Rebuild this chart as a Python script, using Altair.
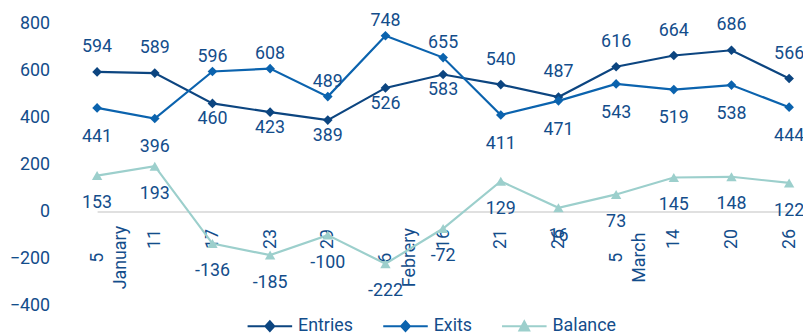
import json
import altair as alt
import pandas as pd

# ---- data ----
x_labels = ["5|January", "11", "17", "23", "29", "6|Febrery", "16", "21", "26",
            "5|March", "14", "20", "26"]
entries = [594, 589, 460, 423, 389, 526, 583, 540, 487, 616, 664, 686, 566]
exits = [441, 396, 596, 608, 489, 748, 655, 411, 471, 543, 519, 538, 444]
balance = [153, 193, -136, -185, -100, -222, -72, 129, 16, 73, 145, 148, 122]
series_names = ["Entries", "Exits", "Balance"]
y_ticks = [-400, -200, 0, 200, 400, 600, 800]

# ---- styles ----
colors = ["#0c4580", "#0b63ae", "#9ccfcc"]
TEXT = "#134d8b"
FONT = "Roboto"

rows = []
for i in range(len(x_labels)):
    e, x, b = entries[i], exits[i], balance[i]
    rows.append({"idx": i, "series": "Entries", "value": e, "side": "above" if e >= x else "below"})
    rows.append({"idx": i, "series": "Exits", "value": x, "side": "above" if x > e else "below"})
    rows.append({"idx": i, "series": "Balance", "value": b, "side": "below"})
df = pd.DataFrame(rows)
df["label"] = df["value"].astype(str)

# axis label text (multi-line for the first day of each month)
display = [lab.split("|") if "|" in lab else lab for lab in x_labels]
label_expr = json.dumps(display, ensure_ascii=False) + "[datum.value]"
multi_idx = [i for i, lab in enumerate(x_labels) if "|" in lab]
is_multi = f"indexof({json.dumps(multi_idx)}, datum.value) >= 0"

x_enc = alt.X(
    "idx:O",
    scale=alt.Scale(type="point", range=[29, 728], padding=0),
    axis=alt.Axis(
        title=None, offset=-95, labelAngle=270,
        labelAlign={"condition": {"test": is_multi, "value": "center"}, "value": "right"},
        labelPadding={"condition": {"test": is_multi, "value": 46}, "value": 17},
        labelBaseline="middle",
        labelExpr=label_expr, labelFontSize=18, labelLineHeight=24,
        labelColor=TEXT, labelFont=FONT, ticks=False, domainColor="#d6d6d6", domainWidth=1.5,
        labelOverlap=False,
    ),
)
y_enc = alt.Y(
    "value:Q",
    scale=alt.Scale(domain=[-400, 800], nice=False, zero=False),
    axis=alt.Axis(
        title=None, values=y_ticks, grid=False, domain=False, ticks=False,
        labelPadding=19, labelFontSize=18, labelColor=TEXT, labelFont=FONT,
    ),
)
color_scale = alt.Scale(domain=series_names, range=colors)

# legend symbols: line segment with a (solid-looking) marker in the middle
diamond_path = ("M-1,0H1"
                "M-0.2,0L0,-0.22L0.2,0L0,0.22Z"
                "M-0.13,0L0,-0.143L0.13,0L0,0.143Z"
                "M-0.06,0L0,-0.066L0.06,0L0,0.066Z")
triangle_path = ("M-1,0H1"
                 "M-0.22,0.19L0,-0.22L0.22,0.19Z"
                 "M-0.132,0.13L0,-0.115L0.132,0.13Z"
                 "M-0.055,0.085L0,-0.02L0.055,0.085Z")

legend = alt.Legend(
    title=None, orient="none", legendX=180, legendY=282, direction="horizontal",
    symbolSize=2025, symbolStrokeWidth=2, labelFontSize=18, labelFont=FONT, labelColor=TEXT,
    labelOffset=5, columnPadding=26, padding=0, symbolOpacity=1,
)

base = alt.Chart(df).encode(x=x_enc, y=y_enc)
color_enc = alt.Color("series:N", scale=color_scale, legend=legend)

lines = base.mark_line(strokeWidth=2.2).encode(
    color=color_enc,
    order=alt.Order("idx:O"),
)
diamonds = base.transform_filter(alt.datum.series != "Balance").mark_point(
    shape="diamond", filled=True, opacity=1, size=95
).encode(color=color_enc)
triangles = base.transform_filter(alt.datum.series == "Balance").mark_point(
    shape="triangle-up", filled=True, opacity=1, size=110
).encode(color=color_enc)

# empty layer that only feeds the legend its symbol shapes
legend_layer = base.transform_filter(alt.datum.idx < 0).mark_point(
    filled=False, strokeWidth=2
).encode(
    color=color_enc,
    shape=alt.Shape("series:N",
                    scale=alt.Scale(domain=series_names,
                                    range=[diamond_path, diamond_path, triangle_path]),
                    legend=legend),
)

offsets = {
    ("Entries", "above"): -25, ("Entries", "below"): 16,
    ("Exits", "above"): -15, ("Exits", "below"): 29,
    ("Balance", "below"): 28,
}
text_layers = []
for (s, side), dy in offsets.items():
    text_layers.append(
        base.transform_filter((alt.datum.series == s) & (alt.datum.side == side))
        .mark_text(fontSize=18, font=FONT, color=TEXT, dy=dy, baseline="middle", align="center")
        .encode(text=alt.Text("label:N"))
    )

chart = alt.layer(lines, diamonds, triangles, legend_layer, *text_layers).properties(
    width=742, height=285,
    autosize=alt.AutoSizeParams(type="none"),
    padding={"left": 61, "top": 14, "right": 0, "bottom": 27},
).configure(font=FONT).configure_view(stroke=None)

chart.save("out.html", embed_options={"renderer": "svg", "actions": False})
